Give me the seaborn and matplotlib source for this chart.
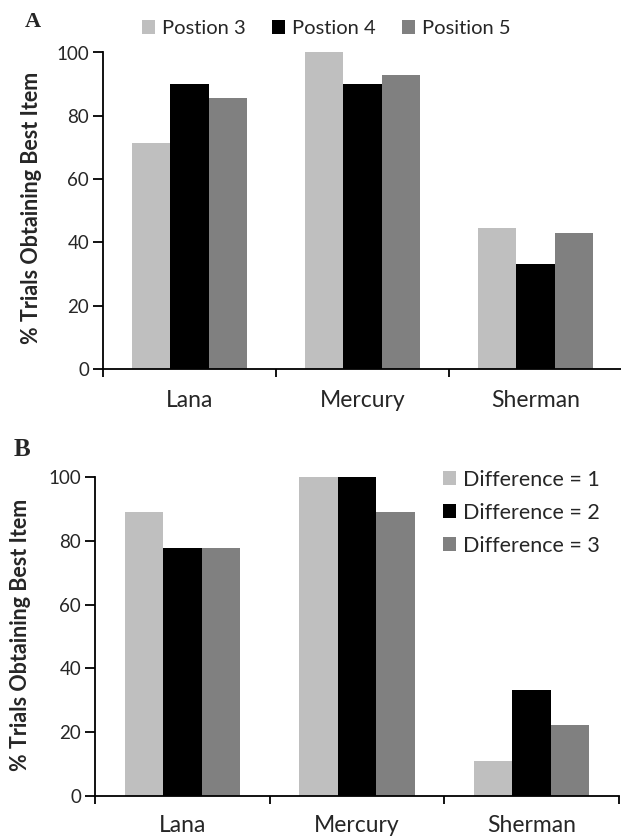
import numpy as np
import pandas as pd
import seaborn as sns
from matplotlib import pyplot as plt

sns.set_theme(style="ticks")
plt.rcParams["font.family"] = ["Lato", "DejaVu Sans"]

# data
subjects = ["Lana", "Mercury", "Sherman"]
pos_labels = ["Postion 3", "Postion 4", "Position 5"]
pos3 = [71.4, 100.0, 44.4]
pos4 = [90.0, 90.0, 33.3]
pos5 = [85.7, 92.9, 42.9]
diff_labels = ["Difference = 1", "Difference = 2", "Difference = 3"]
diff1 = [88.9, 100.0, 11.1]
diff2 = [77.8, 100.0, 33.3]
diff3 = [77.8, 88.9, 22.2]
yticks = [0, 20, 40, 60, 80, 100]
grays = ["#bfbfbf", "#000000", "#808080"]


def long_form(labels, series):
    rows = []
    for lab, vals in zip(labels, series):
        for s, v in zip(subjects, vals):
            rows.append({"Subject": s, "Group": lab, "Pct": v})
    return pd.DataFrame(rows)


dfA = long_form(pos_labels, [pos3, pos4, pos5])
dfB = long_form(diff_labels, [diff1, diff2, diff3])

fig = plt.figure(figsize=(6.21, 8.38), dpi=100)
axA = fig.add_axes([103 / 621, 1 - 369 / 838, 519 / 621, 316.5 / 838])
axB = fig.add_axes([95 / 621, 1 - 796 / 838, 524 / 621, 319 / 838])


def style(ax, df, labels, xpad, ylab_x, ylab_y):
    sns.barplot(data=df, x="Subject", y="Pct", hue="Group", order=subjects,
                hue_order=labels, palette=grays, saturation=1, width=0.66,
                linewidth=0, ax=ax, legend=True)
    ax.set_xlim(-0.5, 2.5)
    ax.set_ylim(0, 100)
    ax.set_yticks(yticks)
    ax.set_xlabel("")
    ax.set_ylabel("% Trials Obtaining Best Item", fontsize=15.5, fontweight="bold")
    ax.yaxis.set_label_coords(ylab_x, ylab_y)
    ax.set_xticks([-0.5, 0.5, 1.5, 2.5], minor=True)
    ax.tick_params(axis="x", which="major", length=0, labelsize=16.5, pad=xpad)
    ax.tick_params(axis="x", which="minor", length=6, width=1.3, color="black")
    ax.tick_params(axis="y", length=7, width=1.3, labelsize=13.5, pad=3, color="black")
    sns.despine(ax=ax)
    for sp in ["left", "bottom"]:
        ax.spines[sp].set_color("black")
        ax.spines[sp].set_linewidth(1.3)
    ax.get_legend().remove()


style(axA, dfA, pos_labels, 15, -0.118, 0.509)
style(axB, dfB, diff_labels, 13.5, -0.122, 0.505)

h, l = axA.get_legend_handles_labels()
axA.legend(h, l, ncol=3, loc="upper left", frameon=False, fontsize=14.5,
           bbox_to_anchor=(142 / 621, 1 - 20 / 838), bbox_transform=fig.transFigure,
           borderpad=0, borderaxespad=0, handlelength=0.65, handleheight=0.65,
           handletextpad=0.35, columnspacing=1.3)

h, l = axB.get_legend_handles_labels()
axB.legend(h, l, loc="upper left", frameon=False, fontsize=15.5,
           bbox_to_anchor=(443 / 621, 1 - 470 / 838), bbox_transform=fig.transFigure,
           borderpad=0, borderaxespad=0, handlelength=0.62, handleheight=0.62,
           handletextpad=0.32, labelspacing=0.6)

fig.text(33 / 621, 1 - 22 / 838, "A", family="Liberation Serif", fontweight="bold",
         fontsize=16, ha="center", va="center")
fig.text(22 / 621, 1 - 449 / 838, "B", family="Liberation Serif", fontweight="bold",
         fontsize=18, ha="center", va="center")

fig.savefig("out.png", dpi=100)
